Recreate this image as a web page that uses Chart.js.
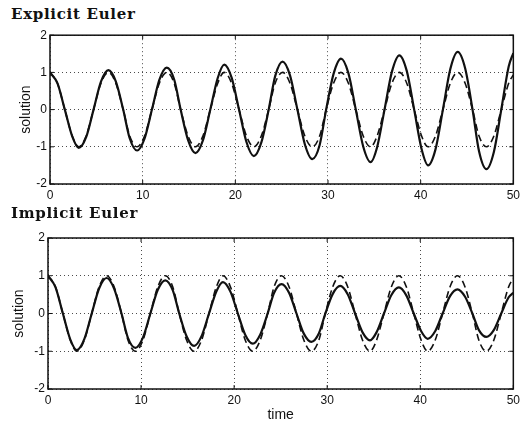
<!DOCTYPE html>
<html>
<head>
<meta charset="utf-8">
<script src="https://cdn.jsdelivr.net/npm/chart.js@4.4.1/dist/chart.umd.min.js"></script>
<style>
    body { margin: 0; background: #fff; width: 524px; height: 429px; position: relative; overflow: hidden; }
    .panel-title { position: absolute; left: 11px; font: bold 15px "DejaVu Serif", serif; letter-spacing: 0.7px; color: #111; }
    .panel { position: absolute; left: 0; width: 524px; }
</style>
</head>
<body>
<div class="panel-title" style="top:5px">Explicit Euler</div>
<div class="panel" style="top:25px;height:180px"><canvas id="explicitChart"></canvas></div>
<div class="panel-title" style="top:204px">Implicit Euler</div>
<div class="panel" style="top:225px;height:204px"><canvas id="implicitChart"></canvas></div>
<script>
// sample times (eighth of a period apart)
const times = [
    0, 0.8, 1.6, 2.4, 3.1, 3.9, 4.7, 5.5,
    6.3, 7.1, 7.9, 8.6, 9.4, 10.2, 11.0, 11.8,
    12.6, 13.4, 14.1, 14.9, 15.7, 16.5, 17.3, 18.1,
    18.8, 19.6, 20.4, 21.2, 22.0, 22.8, 23.6, 24.3,
    25.1, 25.9, 26.7, 27.5, 28.3, 29.1, 29.8, 30.6,
    31.4, 32.2, 33.0, 33.8, 34.6, 35.3, 36.1, 36.9,
    37.7, 38.5, 39.3, 40.1, 40.8, 41.6, 42.4, 43.2,
    44.0, 44.8, 45.6, 46.3, 47.1, 47.9, 48.7, 49.5,
    50.0
];

// exact solution (dashed in both panels)
const exactSolution = [
    1, 0.71, 0, -0.71, -1, -0.71, 0, 0.71,
    1, 0.71, 0, -0.71, -1, -0.71, 0, 0.71,
    1, 0.71, 0, -0.71, -1, -0.71, 0, 0.71,
    1, 0.71, 0, -0.71, -1, -0.71, 0, 0.71,
    1, 0.71, 0, -0.71, -1, -0.71, 0, 0.71,
    1, 0.71, 0, -0.71, -1, -0.71, 0, 0.71,
    1, 0.71, 0, -0.71, -1, -0.71, 0, 0.71,
    1, 0.71, 0, -0.71, -1, -0.71, 0, 0.71,
    0.93
];

// explicit Euler: amplitude slowly grows
const explicitEuler = [
    1.00, 0.71, 0, -0.72, -1.03, -0.74, 0, 0.75,
    1.06, 0.76, 0, -0.77, -1.10, -0.78, 0, 0.80,
    1.13, 0.81, 0, -0.82, -1.17, -0.83, 0, 0.85,
    1.21, 0.86, 0, -0.87, -1.25, -0.89, 0, 0.90,
    1.29, 0.92, 0, -0.93, -1.33, -0.95, 0, 0.96,
    1.37, 0.98, 0, -0.99, -1.41, -1.01, 0, 1.02,
    1.46, 1.04, 0, -1.06, -1.50, -1.07, 0, 1.09,
    1.55, 1.11, 0, -1.12, -1.60, -1.14, 0, 1.16,
    1.52
];

// implicit Euler: amplitude slowly decays
const implicitEuler = [
    1.00, 0.70, 0, -0.69, -0.97, -0.68, 0, 0.67,
    0.94, 0.66, 0, -0.65, -0.91, -0.64, 0, 0.63,
    0.88, 0.62, 0, -0.61, -0.86, -0.60, 0, 0.59,
    0.83, 0.58, 0, -0.57, -0.80, -0.56, 0, 0.55,
    0.78, 0.55, 0, -0.54, -0.75, -0.53, 0, 0.52,
    0.73, 0.51, 0, -0.50, -0.71, -0.50, 0, 0.49,
    0.69, 0.48, 0, -0.47, -0.67, -0.47, 0, 0.46,
    0.64, 0.45, 0, -0.44, -0.62, -0.44, 0, 0.43,
    0.55
];

const INK = '#111';
const tickFont = { family: '"Liberation Sans", Arial, sans-serif', size: 12 };
const labelFont = { family: '"Liberation Sans", Arial, sans-serif', size: 14 };

// frame around the plot area plus small inward tick marks
const axesBox = {
    id: 'axesBox',
    afterDraw(chart) {
        const { ctx, chartArea: a, scales } = chart;
        ctx.save();
        ctx.strokeStyle = INK;
        ctx.lineWidth = 1.5;
        ctx.strokeRect(a.left, a.top, a.right - a.left, a.bottom - a.top);
        ctx.lineWidth = 1;
        ctx.beginPath();
        scales.x.ticks.forEach(t => {
            const px = scales.x.getPixelForValue(t.value);
            ctx.moveTo(px, a.bottom); ctx.lineTo(px, a.bottom - 4);
            ctx.moveTo(px, a.top); ctx.lineTo(px, a.top + 4);
        });
        scales.y.ticks.forEach(t => {
            const py = scales.y.getPixelForValue(t.value);
            ctx.moveTo(a.left, py); ctx.lineTo(a.left + 4, py);
            ctx.moveTo(a.right, py); ctx.lineTo(a.right - 4, py);
        });
        ctx.stroke();
        ctx.restore();
    }
};

function toPoints(vals) {
    return times.map((t, i) => ({ x: t, y: vals[i] }));
}

function makeChart(canvasId, solidVals, cfg) {
    const ctx = document.getElementById(canvasId).getContext('2d');
    return new Chart(ctx, {
        type: 'line',
        data: {
            datasets: [
                {
                    label: 'exact',
                    data: toPoints(exactSolution),
                    borderColor: INK,
                    borderWidth: 1.6,
                    borderDash: [7, 4],
                    pointRadius: 0,
                    cubicInterpolationMode: 'monotone'
                },
                {
                    label: 'numerical',
                    data: toPoints(solidVals),
                    borderColor: INK,
                    borderWidth: 2.2,
                    pointRadius: 0,
                    cubicInterpolationMode: 'monotone'
                }
            ]
        },
        options: {
            responsive: true,
            maintainAspectRatio: false,
            animation: false,
            layout: { padding: cfg.padding },
            plugins: { legend: { display: false }, tooltip: { enabled: false } },
            scales: {
                x: {
                    type: 'linear',
                    min: 0, max: 50,
                    ticks: { stepSize: 10, color: INK, font: tickFont, padding: 4, maxRotation: 0 },
                    grid: { color: 'rgba(0,0,0,0.7)', drawTicks: false },
                    border: { display: false, dash: [1, 3] },
                    title: cfg.xTitle,
                    afterFit: s => { s.height = cfg.xHeight; }
                },
                y: {
                    min: -2, max: 2,
                    ticks: { stepSize: 1, color: INK, font: tickFont, padding: 3 },
                    grid: { color: 'rgba(0,0,0,0.7)', drawTicks: false },
                    border: { display: false, dash: [1, 3] },
                    title: {
                        display: true, text: 'solution', color: INK, font: labelFont,
                        padding: { top: cfg.yTitlePad, bottom: 0 }
                    },
                    afterFit: s => { s.width = cfg.yWidth; }
                }
            }
        },
        plugins: [axesBox]
    });
}

makeChart('explicitChart', explicitEuler, {
    padding: { top: 10, right: 4, left: 0, bottom: 0 },
    xHeight: 21, yWidth: 50, yTitlePad: 18,
    xTitle: { display: false }
});

makeChart('implicitChart', implicitEuler, {
    padding: { top: 13, right: 6, left: 0, bottom: 0 },
    xHeight: 40, yWidth: 48, yTitlePad: 11,
    xTitle: { display: true, text: 'time', color: INK, font: labelFont, padding: { top: 0, bottom: 5 } }
});
</script>
</body>
</html>
